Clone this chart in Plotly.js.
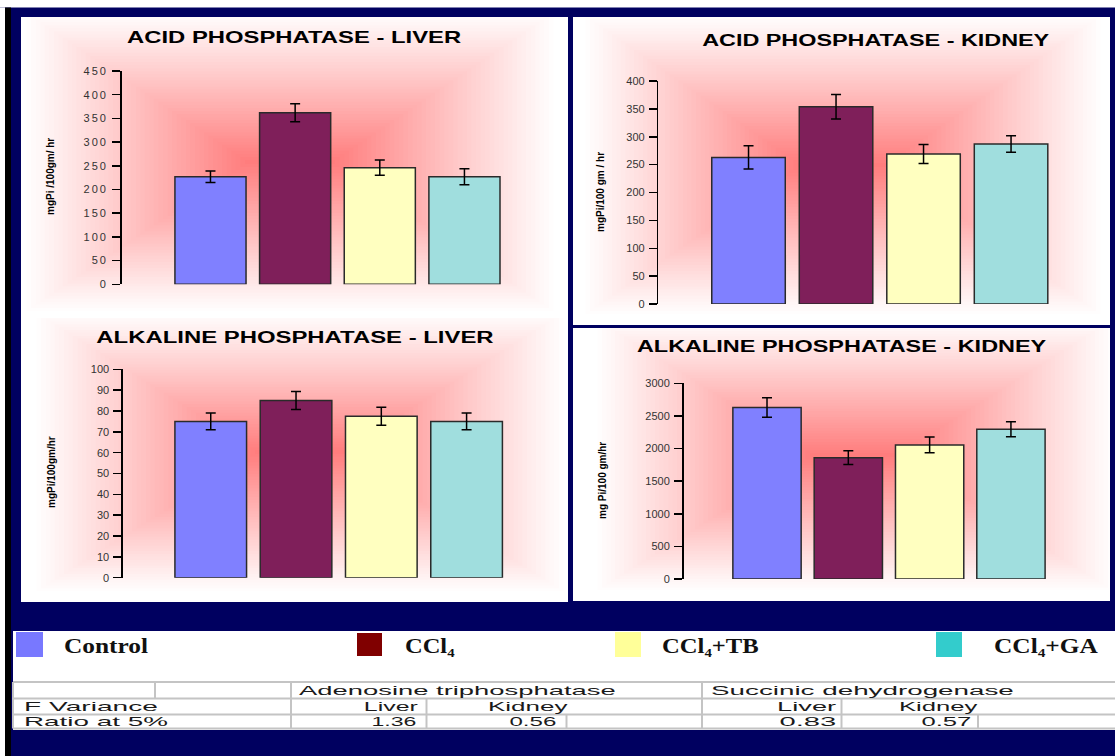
<!DOCTYPE html>
<html>
<head>
<meta charset="utf-8">
<script src="https://cdn.plot.ly/plotly-3.0.1.min.js"></script>
<style>
html,body{margin:0;padding:0;background:#000060;overflow:hidden;}
#chart{width:1115px;height:756px;}
.ytick text{letter-spacing:2px;}
</style>
</head>
<body>
<div id="chart"></div>
<script>
// ---------- data ----------
const groups = ['Control', 'CCl4', 'CCl4+TB', 'CCl4+GA'];
const legendLabels = ['Control', 'CCl₄', 'CCl₄+TB', 'CCl₄+GA'];

const acidLiver = [227, 362, 246, 227];
const acidLiverErr = [12, 19, 16, 17];
const acidKidney = [263, 354, 269, 287];
const acidKidneyErr = [21, 22, 17, 15];
const alkLiver = [75, 85, 77.5, 75];
const alkLiverErr = [4, 4.3, 4.3, 4];
const alkKidney = [2630, 1860, 2055, 2295];
const alkKidneyErr = [150, 105, 120, 115];

const panelTitles = ['ACID PHOSPHATASE - LIVER', 'ACID PHOSPHATASE - KIDNEY',
                     'ALKALINE PHOSPHATASE - LIVER', 'ALKALINE PHOSPHATASE - KIDNEY'];
const yTitles = ['mgPi /100gm/ hr', 'mgPi/100 gm / hr', 'mgPi/100gm/hr', 'mg Pi/100 gm/hr'];

const tableHeader = ['Adenosine triphosphatase', 'Succinic dehydrogenase'];
const tableRowLabels = ['F Variance', 'Ratio at 5%'];
const tableSubHeads = ['Liver', 'Kidney', 'Liver', 'Kidney'];
const tableValues = ['1.36', '0.56', '0.83', '0.57'];

// ---------- styles ----------
const barColors = ['#8080FF', '#7F1F5A', '#FFFFC0', '#A0DEDE'];
const legendColors = ['#7878FF', '#800000', '#FFFF99', '#33CCCC'];

const W = 1115, H = 756;
const X = p => p / W, Y = p => 1 - p / H;

const shapes = [];
function rect(x0, y0, x1, y1, fill, line) {
  shapes.push({type: 'rect', xref: 'paper', yref: 'paper', layer: 'below',
    x0: X(x0), x1: X(x1), y0: Y(y1), y1: Y(y0), fillcolor: fill,
    line: line || {width: 0}});
}
function seg(x0, y0, x1, y1, color, w) {
  shapes.push({type: 'line', xref: 'paper', yref: 'paper', layer: 'below',
    x0: X(x0), x1: X(x1), y0: Y(y0), y1: Y(y1), line: {color: color, width: w}});
}
function glow(b, cx, cy, hw, hh, cw, n) {
  for (let i = 0; i < n; i++) {
    const t = i / (n - 1);
    const w = hw * (1 - t) + cw * t;
    const h = hh * (1 - t) + 2 * t;
    const f = Math.pow(t, 1.05);
    const g = Math.round(255 - (255 - 125) * f);
    rect(Math.max(b[0], cx - w), Math.max(b[1], cy - h),
         Math.min(b[2], cx + w), Math.min(b[3], cy + h), `rgb(255,${g},${g})`);
  }
}

// background frame
rect(0, 0, W, 7.5, '#FFFFFF');
rect(0, 7.5, 5, H, '#FFFFFF');
rect(5, 7.5, 11, H, '#000000');
// panels
const P1 = [21, 17, 568, 318], P3 = [21, 318, 568, 602];
const P2 = [573, 17, 1110, 325], P4 = [573, 328, 1110, 601];
rect(21, 17, 568, 602, '#FFFFFF');
rect(P2[0], P2[1], P2[2], P2[3], '#FFFFFF');
rect(P4[0], P4[1], P4[2], P4[3], '#FFFFFF');
glow(P1, 290, 162, 268, 152, 45, 50);
glow(P2, 843, 165, 262, 152, 45, 50);
glow(P3, 300, 452, 268, 142, 45, 50);
glow(P4, 855, 455, 262, 138, 45, 50);

// legend + table block
rect(13, 631, W, 730, '#FFFFFF');
const sq = [[16, 632, 43, 657], [357, 633, 382, 656], [615, 632, 641, 657], [936, 632, 962, 657]];
sq.forEach((s, i) => rect(s[0], s[1], s[2], s[3], legendColors[i]));

// table grid
const gc = '#C4C4C4';
[682, 698.5, 714.5, 728.5].forEach(y => seg(13, y, W, y, gc, 2));
seg(13, 682, 13, 728.5, gc, 2);
seg(155, 682, 155, 698.5, gc, 2);
seg(291, 682, 291, 728.5, gc, 2);
seg(426.5, 698.5, 426.5, 728.5, gc, 2);
seg(566.5, 714.5, 566.5, 728.5, gc, 2);
seg(702, 682, 702, 728.5, gc, 2);
seg(841.5, 698.5, 841.5, 728.5, gc, 2);
seg(978, 714.5, 978, 728.5, gc, 2);

// ---------- annotations ----------
const annotations = [];
const stretch = [];
function ann(o, targetW) { annotations.push(o); stretch.push(targetW || 0); }

const titleFont = {family: 'Liberation Sans, Arial, sans-serif', size: 16, color: '#000000'};
const titlePos = [[294.5, 37.5, 335], [876, 41, 348], [295, 337, 398], [842, 346, 410]];
panelTitles.forEach((t, i) => ann({text: '<b>' + t + '</b>', xref: 'paper', yref: 'paper',
  x: X(titlePos[i][0]), y: Y(titlePos[i][1]), xanchor: 'center', yanchor: 'middle',
  showarrow: false, font: titleFont}, titlePos[i][2]));

const yTitlePos = [[50, 177], [600, 192], [51, 472], [602, 481]];
yTitles.forEach((t, i) => ann({text: '<b>' + t + '</b>', xref: 'paper', yref: 'paper',
  x: X(yTitlePos[i][0]), y: Y(yTitlePos[i][1]), xanchor: 'center', yanchor: 'middle',
  textangle: -90, showarrow: false,
  font: {family: 'Liberation Sans, Arial, sans-serif', size: 10, color: '#000000'}}));

// legend labels
const legPos = [[62, 84], [403, 50], [660, 97], [992, 104]];
legendLabels.forEach((t, i) => ann({text: '<b>' + t + '</b>', xref: 'paper', yref: 'paper',
  x: X(legPos[i][0]), y: Y(645), xanchor: 'left', yanchor: 'middle', showarrow: false,
  font: {family: 'Liberation Serif, DejaVu Serif, Times New Roman, serif', size: 22, color: '#111111'}}, legPos[i][1]));

// table texts
const tf = {family: 'Liberation Sans, Arial, sans-serif', size: 12.5, color: '#1a1a1a'};
function tcell(text, x, y, anchor, w) {
  ann({text: text, xref: 'paper', yref: 'paper', x: X(x), y: Y(y), xanchor: anchor,
    yanchor: 'middle', showarrow: false, font: tf, borderpad: 0}, w);
}
tcell(tableHeader[0], 298, 690.5, 'left', 317);
tcell(tableHeader[1], 710, 690.5, 'left', 303);
tcell(tableRowLabels[0], 23, 706.5, 'left', 134);
tcell(tableRowLabels[1], 23, 721.5, 'left', 144);
tcell(tableSubHeads[0], 419, 706.5, 'right', 54);
tcell(tableSubHeads[1], 487, 706.5, 'left', 81);
tcell(tableSubHeads[2], 837, 706.5, 'right', 59);
tcell(tableSubHeads[3], 898, 706.5, 'left', 80);
tcell(tableValues[0], 417, 721.5, 'right', 45);
tcell(tableValues[1], 557, 721.5, 'right', 47);
tcell(tableValues[2], 837, 721.5, 'right', 57);
tcell(tableValues[3], 972, 721.5, 'right', 50);

// ---------- traces ----------
function barTrace(vals, errs, xa, ya) {
  return {type: 'bar', x: groups, y: vals, xaxis: xa, yaxis: ya, width: 0.84,
    marker: {color: barColors, line: {color: '#2a2a2a', width: 1.5}},
    error_y: {type: 'data', array: errs, visible: true, color: '#000000', thickness: 1.5, width: 5},
    showlegend: false, hoverinfo: 'skip'};
}
const traces = [
  barTrace(acidLiver, acidLiverErr, 'x', 'y'),
  barTrace(acidKidney, acidKidneyErr, 'x2', 'y2'),
  barTrace(alkLiver, alkLiverErr, 'x3', 'y3'),
  barTrace(alkKidney, alkKidneyErr, 'x4', 'y4')
];

function xAxis(px0, px1, r0, r1, anchor) {
  return {domain: [X(px0), X(px1)], range: [r0, r1], type: 'category', anchor: anchor,
    showline: false, showticklabels: false, showgrid: false, zeroline: false, ticks: '', fixedrange: true};
}
function yAxis(pyTop, pyBot, max, dtick, anchor) {
  return {domain: [Y(pyBot), Y(pyTop)], range: [0, max], dtick: dtick, tick0: 0, anchor: anchor,
    ticks: 'outside', ticklen: 8, tickwidth: 1.5, tickcolor: '#000000',
    showline: true, linecolor: '#000000', linewidth: 1.5, showgrid: false, zeroline: false,
    ticklabelstandoff: 2,
    tickfont: {family: 'Liberation Sans, Arial, sans-serif', size: 11, color: '#333333'}, fixedrange: true};
}

const layout = {
  width: W, height: H, autosize: false,
  margin: {l: 0, r: 0, t: 0, b: 0, pad: 0},
  paper_bgcolor: '#000060', plot_bgcolor: 'rgba(0,0,0,0)',
  showlegend: false, bargap: 0.16,
  xaxis: xAxis(121.6, 511, -1.05, 3.55, 'y'),
  yaxis: yAxis(71, 284.3, 450, 50, 'x'),
  xaxis2: xAxis(658.4, 1054.8, -1.03, 3.5, 'y2'),
  yaxis2: yAxis(81, 304, 400, 50, 'x2'),
  xaxis3: xAxis(122.9, 513.5, -1.03, 3.55, 'y3'),
  yaxis3: yAxis(369.3, 577.7, 100, 10, 'x3'),
  xaxis4: xAxis(683.5, 1051.6, -1.027, 3.5, 'y4'),
  yaxis4: yAxis(383.3, 579, 3000, 500, 'x4'),
  shapes: shapes,
  annotations: annotations
};

Plotly.newPlot('chart', traces, layout, {staticPlot: true, displayModeBar: false}).then(gd => {
  gd.querySelectorAll('g.annotation').forEach(g => {
    const i = +g.getAttribute('data-index');
    const w = stretch[i];
    if (!w) return;
    const t = g.querySelector('text.annotation-text');
    if (!t) return;
    const bb = t.getBBox();
    if (!bb.width) return;
    const f = w / bb.width;
    const ax = annotations[i].xanchor;
    t.style.transformBox = 'fill-box';
    t.style.transformOrigin = (ax === 'left' ? 'left' : ax === 'right' ? 'right' : 'center') + ' center';
    t.style.transform = 'scaleX(' + f.toFixed(3) + ')';
  });
});
</script>
</body>
</html>
